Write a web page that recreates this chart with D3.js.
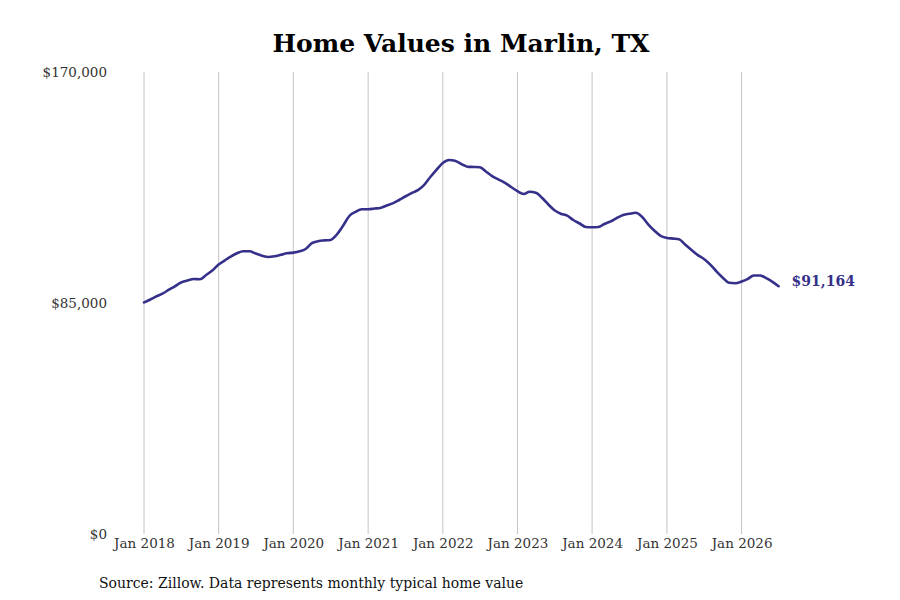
<!DOCTYPE html>
<html>
<head>
<meta charset="utf-8">
<script src="https://cdn.jsdelivr.net/npm/d3@7"></script>
<style>
  body { margin: 0; background: #fff; }
  svg { display: block; }
</style>
</head>
<body>
<svg id="chart" width="900" height="600"></svg>
<script>
const startYear = 2018;
const startMonth = 0;
const values = [
  85190, 86290, 87390, 88460, 89785, 91150, 92545, 93245, 93830, 93720, 95305, 96960,
  99170, 100715, 102075, 103325, 104060, 104060, 103215, 102405, 101930, 102185, 102740, 103325,
  103545, 104025, 104870, 107005, 107740, 108035, 108185, 110205, 113520, 117015, 118560, 119480,
  119480, 119775, 119960, 120880, 121650, 122900, 124190, 125405, 126510, 128350, 131365, 134015,
  136515, 137620, 137325, 136150, 135155, 135045, 134935, 133315, 131585, 130410, 129230, 127685,
  126140, 125110, 125955, 125550, 123750, 121245, 119150, 117860, 117125, 115540, 114255, 112965,
  112855, 112965, 114070, 115025, 116280, 117380, 117825, 118190, 116720, 113960, 111605, 109690,
  108955, 108700, 108440, 106415, 104505, 102625, 101190, 99130, 96555, 94310, 92435, 92285,
  92910, 93905, 95120, 95120, 94125, 92800, 91164
];
const yTicks = [0, 85000, 170000];
const xTickYears = [2018, 2019, 2020, 2021, 2022, 2023, 2024, 2025, 2026];
const title = "Home Values in Marlin, TX";
const source = "Source: Zillow. Data represents monthly typical home value";

const data = values.map((v, i) => ({ date: new Date(startYear, startMonth + i, 1), value: v }));

const svg = d3.select("#chart");
const font = "'DejaVu Serif', serif";
const lineColor = "#35308a";

const x = d3.scaleTime()
  .domain([new Date(2018, 0, 1), new Date(2026, 0, 1)])
  .range([144, 741.6]);
const y = d3.scaleLinear()
  .domain([0, 170000])
  .range([534, 72]);

// gridlines
svg.append("g")
  .selectAll("line")
  .data(xTickYears)
  .join("line")
  .attr("x1", d => x(new Date(d, 0, 1)))
  .attr("x2", d => x(new Date(d, 0, 1)))
  .attr("y1", y(170000))
  .attr("y2", y(0))
  .attr("stroke", "#c4c4c4")
  .attr("stroke-width", 1);

// x axis labels
const xAxis = d3.axisBottom(x)
  .tickValues(xTickYears.map(d => new Date(d, 0, 1)))
  .tickFormat(d3.timeFormat("Jan %Y"))
  .tickSize(0)
  .tickPadding(4);
const gx = svg.append("g").attr("transform", `translate(0,${y(0)})`).call(xAxis);
gx.select(".domain").remove();
gx.selectAll("text").attr("font-family", font).attr("font-size", 13.5).attr("fill", "#333");

// y axis labels
const yAxis = d3.axisLeft(y)
  .tickValues(yTicks)
  .tickFormat(d => "$" + d3.format(",")(d))
  .tickSize(0)
  .tickPadding(0);
const gy = svg.append("g").attr("transform", `translate(107,0)`).call(yAxis);
gy.select(".domain").remove();
gy.selectAll("text").attr("font-family", font).attr("font-size", 13.5).attr("fill", "#333");

// line
const line = d3.line()
  .x(d => x(d.date))
  .y(d => y(d.value))
  .curve(d3.curveMonotoneX);
svg.append("path")
  .datum(data)
  .attr("d", line)
  .attr("fill", "none")
  .attr("stroke", lineColor)
  .attr("stroke-width", 2.6)
  .attr("stroke-linejoin", "round")
  .attr("stroke-linecap", "round");

// end label
const last = data[data.length - 1];
svg.append("text")
  .attr("x", x(last.date) + 13)
  .attr("y", y(last.value) - 4)
  .attr("dominant-baseline", "middle")
  .attr("font-family", font)
  .attr("font-weight", "bold")
  .attr("font-size", 14)
  .attr("fill", lineColor)
  .text("$" + d3.format(",")(last.value));

// title
svg.append("text")
  .attr("x", 461)
  .attr("y", 52)
  .attr("text-anchor", "middle")
  .attr("font-family", font)
  .attr("font-weight", "bold")
  .attr("font-size", 25)
  .attr("fill", "#000")
  .text(title);

// source
svg.append("text")
  .attr("x", 99)
  .attr("y", 588)
  .attr("font-family", font)
  .attr("font-size", 14)
  .attr("fill", "#111")
  .text(source);
</script>
</body>
</html>
